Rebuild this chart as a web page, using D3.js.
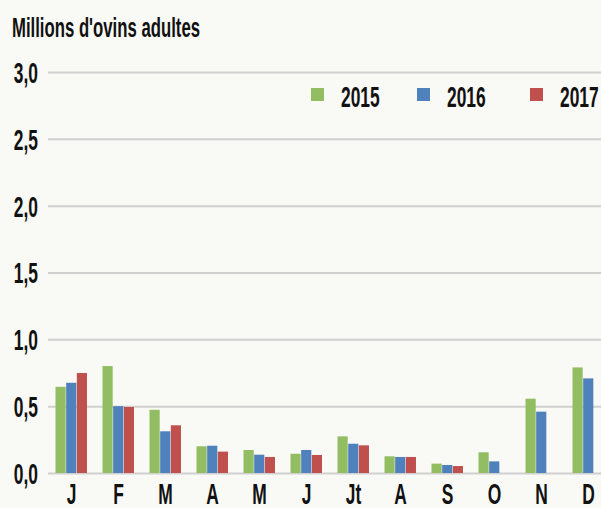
<!DOCTYPE html>
<html>
<head>
<meta charset="utf-8">
<script src="https://cdn.jsdelivr.net/npm/d3@7"></script>
<style>
  body { margin: 0; background: #f9f9f5; }
  text { font-family: "Liberation Sans", Arial, sans-serif; font-weight: bold; fill: #111; }
</style>
</head>
<body>
<div id="chart"></div>
<script>
const months = ['J', 'F', 'M', 'A', 'M', 'J', 'Jt', 'A', 'S', 'O', 'N', 'D'];
const years = ['2015', '2016', '2017'];
const v2015 = [0.645, 0.80, 0.473, 0.20, 0.172, 0.144, 0.274, 0.125, 0.07, 0.155, 0.556, 0.79];
const v2016 = [0.675, 0.50, 0.312, 0.204, 0.137, 0.172, 0.219, 0.12, 0.06, 0.087, 0.459, 0.708];
const v2017 = [0.748, 0.494, 0.357, 0.16, 0.12, 0.135, 0.207, 0.12, 0.052, null, null, null];
const yTicks = [0, 0.5, 1, 1.5, 2, 2.5, 3];

const width = 601;
const height = 508;
const colors = ['#92bd63', '#4f81bd', '#c0504d'];
const squeeze = 0.6; // condensed look

const data = months.map((m, i) => ({
  key: i,
  label: m,
  values: [v2015[i], v2016[i], v2017[i]]
}));

const svg = d3.select('#chart').append('svg')
  .attr('width', width)
  .attr('height', height);

/* Scales */
const x0 = d3.scaleBand()
  .domain(data.map(d => d.key))
  .range([48, 612])
  .paddingInner(0.32)
  .paddingOuter(0.16);

const x1 = d3.scaleBand()
  .domain([0, 1, 2])
  .range([0, x0.bandwidth()]);

const yScale = d3.scaleLinear()
  .domain([0, 3])
  .range([473, 72]);

/* Grid */
const yAxis = d3.axisLeft(yScale)
  .tickValues(yTicks)
  .tickSizeInner(-(width - 48))
  .tickSizeOuter(0)
  .tickPadding(10)
  .tickFormat(d => d3.format('.1f')(d).replace('.', ','));

svg.append('g')
  .attr('class', 'y axis')
  .attr('transform', 'translate(48,0)')
  .call(g => {
    g.call(yAxis);
    g.select('.domain').remove();
    g.selectAll('.tick line')
      .attr('stroke', '#d0d0d0')
      .attr('stroke-width', 2)
      .attr('x1', 0)
      .attr('x2', width - 48);
    g.selectAll('.tick text')
      .attr('x', 0)
      .attr('dy', '0.36em')
      .attr('transform', `translate(-10,0) scale(${squeeze},1)`)
      .style('font-size', '29px')
      .attr('font-family', null)
      .attr('fill', '#111');
  });

/* Bars */
const groups = svg.append('g')
  .selectAll('g')
  .data(data).enter()
  .append('g')
  .attr('transform', d => `translate(${x0(d.key)},0)`);

groups.selectAll('rect')
  .data(d => d.values.map((v, i) => ({ v, i })).filter(e => e.v != null))
  .enter()
  .append('rect')
  .attr('x', d => x1(d.i))
  .attr('width', x1.bandwidth() - 0.5)
  .attr('y', d => yScale(d.v))
  .attr('height', d => yScale(0) - yScale(d.v))
  .attr('fill', d => colors[d.i]);

/* X labels */
svg.append('g')
  .selectAll('text')
  .data(data).enter()
  .append('text')
  .attr('transform', d => `translate(${x0(d.key) + x0.bandwidth() / 2},504) scale(${squeeze},1)`)
  .attr('text-anchor', 'middle')
  .style('font-size', '29px')
  .text(d => d.label);

/* Title */
svg.append('text')
  .attr('x', 12)
  .attr('y', 37)
  .style('font-size', '27px')
  .attr('textLength', 188)
  .attr('lengthAdjust', 'spacingAndGlyphs')
  .text("Millions d'ovins adultes");

/* Legend */
const legendX = [311, 417, 530];
const legend = svg.append('g')
  .selectAll('g')
  .data(years).enter()
  .append('g')
  .attr('transform', (d, i) => `translate(${legendX[i]},88)`);

legend.append('rect')
  .attr('width', 13)
  .attr('height', 13)
  .attr('fill', (d, i) => colors[i]);

legend.append('text')
  .attr('transform', `translate(30,18.5) scale(${squeeze},1)`)
  .style('font-size', '29px')
  .text(d => d);
</script>
</body>
</html>
